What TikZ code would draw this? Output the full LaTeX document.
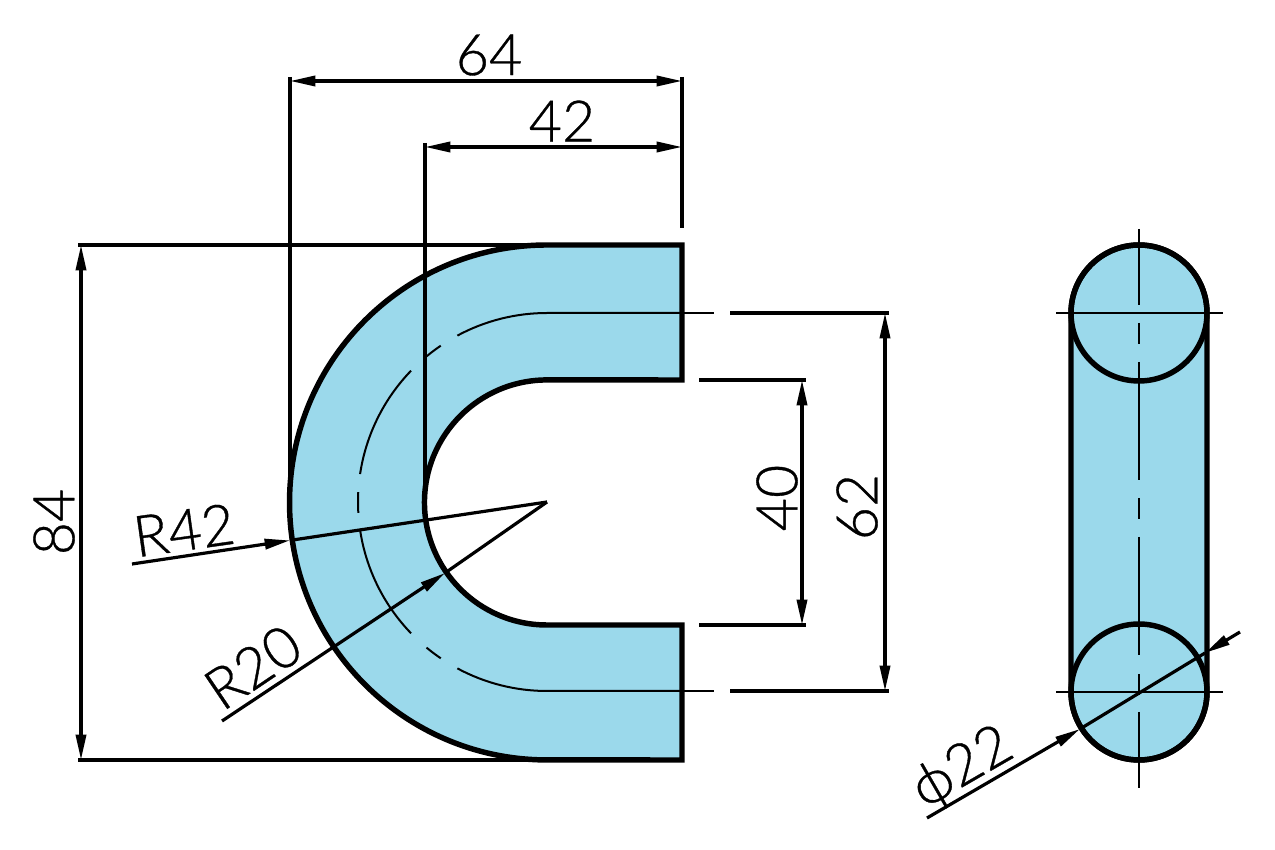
\documentclass[tikz,border=0pt]{standalone}
\usepackage{fontspec}
\usetikzlibrary{arrows.meta}
\newfontfamily\dimfont[FakeBold=0.6]{Lato Light}
\definecolor{partfill}{HTML}{9BD9EB}
\tikzset{
  x=.75pt,y=.75pt,
  outline/.style={line width=4.1pt,line join=miter,line cap=butt},
  dimline/.style={line width=2.4pt},
  centerline/.style={line width=1.5pt},
  dimarrow/.style={dimline,{Stealth[length=19pt,width=7.6pt,inset=0pt]}-{Stealth[length=19pt,width=7.6pt,inset=0pt]}},
  leadarrow/.style={dimline,-{Stealth[length=19pt,width=7.6pt,inset=0pt]}},
  dimtext/.style={inner sep=0pt,font=\dimfont\fontsize{43}{43}\selectfont},
}
\begin{document}
\begin{tikzpicture}
\useasboundingbox (0,0) rectangle (1275,850);
\fill[white] (0,0) rectangle (1275,850);
\coordinate (c) at (547,348);
% front view
\path[fill=partfill,draw=black,outline] (682,605) -- (547,605)
  arc[start angle=90,end angle=270,radius=193.1pt] -- (682,90) -- (682,225) -- (547,225)
  arc[start angle=270,end angle=90,radius=91.9pt] -- (682,470) -- cycle;
% centre line of the bend
\draw[centerline] (682,537) -- (547,537) arc[start angle=90,end angle=118.3,radius=141.75pt];
\draw[centerline] (c) ++(124.2:189) arc[start angle=124.2,end angle=129.6,radius=141.75pt];
\draw[centerline] (c) ++(136:189) arc[start angle=136,end angle=171.5,radius=141.75pt];
\draw[centerline] (c) ++(177:189) arc[start angle=177,end angle=183.3,radius=141.75pt];
\draw[centerline] (c) ++(188.5:189) arc[start angle=188.5,end angle=224,radius=141.75pt];
\draw[centerline] (c) ++(230.4:189) arc[start angle=230.4,end angle=235.8,radius=141.75pt];
\draw[centerline] (c) ++(241.7:189) arc[start angle=241.7,end angle=270,radius=141.75pt] -- (682,159);
\draw[centerline] (682,537) -- (714,537);
\draw[centerline] (682,159) -- (714,159);
% extension lines
\draw[dimline] (290,773) -- (290,348);
\draw[dimline] (425,707) -- (425,348);
\draw[dimline] (682,773) -- (682,622);
\draw[dimline] (78,605) -- (547,605);
\draw[dimline] (78,90) -- (547,90);
\draw[dimline] (730,537) -- (889,537);
\draw[dimline] (730,159) -- (889,159);
\draw[dimline] (699,470) -- (806,470);
\draw[dimline] (699,225) -- (806,225);
% dimension lines
\draw[dimarrow] (290,769) -- (682,769);
\draw[dimarrow] (425,703) -- (682,703);
\draw[dimarrow] (81,605) -- (81,90);
\draw[dimarrow] (802,470) -- (802,225);
\draw[dimarrow] (885,537) -- (885,159);
% radius leaders
\coordinate (r42s) at (132,286);
\coordinate (r42t) at (290,309.6);
\coordinate (r20s) at (222,129);
\coordinate (r20t) at (445,277);
\draw[leadarrow] (r42s) -- (r42t);
\draw[dimline] (r42t) -- (c);
\draw[leadarrow] (r20s) -- (r20t);
\draw[dimline] (r20t) -- (c);
% side view
\path[fill=partfill,draw=black,outline] (1071,537) arc[start angle=180,end angle=0,radius=51pt]
  -- (1207,158) arc[start angle=360,end angle=180,radius=51pt] -- cycle;
\draw[outline] (1139,537) circle[radius=51pt];
\draw[outline] (1139,158) circle[radius=51pt];
\draw[centerline] (1056,537) -- (1223,537);
\draw[centerline] (1056,158) -- (1223,158);
\draw[centerline] (1139,621) -- (1139,545);
\draw[centerline] (1139,527) -- (1139,506);
\draw[centerline] (1139,488) -- (1139,370);
\draw[centerline] (1139,352) -- (1139,331);
\draw[centerline] (1139,313) -- (1139,195);
\draw[centerline] (1139,176) -- (1139,155);
\draw[centerline] (1139,138) -- (1139,62);
\coordinate (da) at (927,32);
\coordinate (db) at (1080,121);
\coordinate (dc) at (1205,197);
\coordinate (dd) at (1240,218);
\draw[leadarrow] (da) -- (db);
\draw[dimline] (db) -- (dc);
\draw[leadarrow] (dd) -- (dc);
% texts
\node[dimtext] (t64) at (489,795) {64};
\node[dimtext] (t42) at (562,729) {42};
\node[dimtext,rotate=90] (t84) at (54,328) {84};
\node[dimtext,rotate=90] (t40) at (777,352) {40};
\node[dimtext,rotate=90] (t62) at (857,343) {62};
\node[dimtext,rotate=8] (tr42) at (184,320) {R42};
\node[dimtext,rotate=34] (tr20) at (253,183) {R20};
\node[dimtext,rotate=30] (td22) at (963,81) {ϕ22};
\end{tikzpicture}
\end{document}
